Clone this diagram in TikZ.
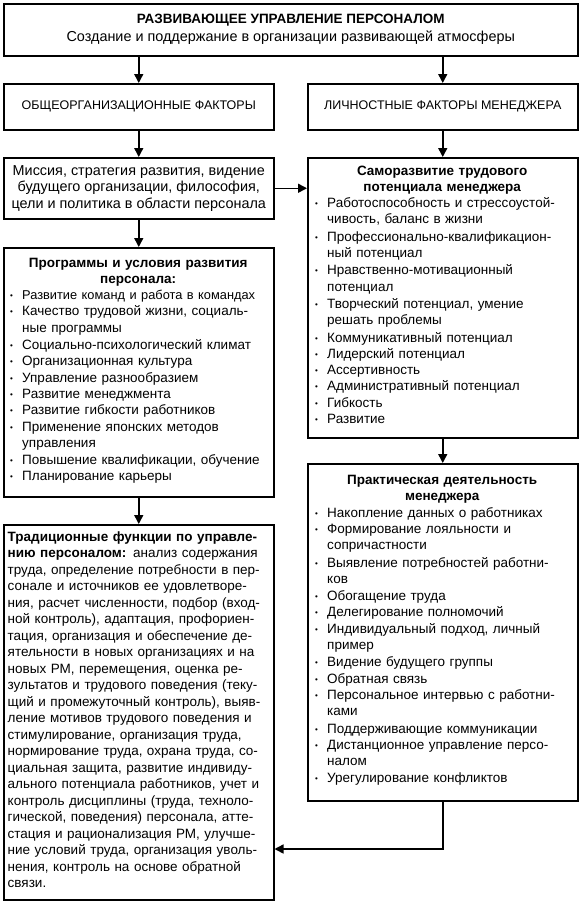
\documentclass[tikz,border=0pt]{standalone}
\usepackage{fontspec}
\setmainfont{Liberation Sans}
\usetikzlibrary{arrows.meta}

\newcommand\boxfont{\fontsize{13.5}{16.5}\selectfont\lineskiplimit=-2pt}
\newcommand\listfont{\fontsize{13.5}{16.3}\selectfont\lineskiplimit=-2pt}
\newcommand\widefont{\fontsize{14.4}{16.5}\selectfont}
\newcommand\capsfont{\fontsize{12.5}{15}\selectfont}
\newcommand\itm[1]{\par\noindent\makebox[12pt][l]{\raisebox{1pt}{\fontsize{8}{8}\selectfont•}}%
    \begin{tabular}[t]{@{}l@{}}#1\end{tabular}}
\newcommand\jl[1]{\noindent\makebox[\linewidth][s]{#1}\par}

\begin{document}
\begin{tikzpicture}[
    x=1pt, y=-1pt,
    frame/.style={draw, line width=1.5pt, inner sep=0pt, anchor=north west,
        minimum width=270pt},
    txt/.style={anchor=base west, inner sep=0pt, align=left, font=\listfont},
    arr/.style={-{Triangle[width=9pt,length=9pt]}, line width=1.5pt},
]
\useasboundingbox (0,0) rectangle (580,902);

% header and the two kinds of factors
\node[frame, minimum width=574pt, minimum height=52pt, align=center, font=\boxfont] (top) at (3,3)
    {\textbf{РАЗВИВАЮЩЕЕ УПРАВЛЕНИЕ ПЕРСОНАЛОМ}\\[1.5pt]
     {\widefont Создание и поддержание в организации развивающей атмосферы}};
\node[frame, minimum height=46pt, font=\capsfont] (orgf) at (3,83) {ОБЩЕОРГАНИЗАЦИОННЫЕ ФАКТОРЫ};
\node[frame, minimum height=46pt, font=\capsfont] (persf) at (307,83) {ЛИЧНОСТНЫЕ ФАКТОРЫ МЕНЕДЖЕРА};

% left column
\node[frame, minimum height=61pt, align=center, font=\widefont] (mission) at (3,157)
    {Миссия, стратегия развития, видение\\
     будущего организации, философия,\\
     цели и политика в области персонала};

\node[frame, minimum height=249pt] (prog) at (3,247) {};
\node[txt, text width=256pt] (progt) at (10,267) {%
    {\centering\bfseries Программы и условия развития\\персонала:\par}
    \itm{{\fontsize{12.8}{16.3}\selectfont Развитие команд и работа в командах}}
    \itm{Качество трудовой жизни, социаль-\\ные программы}
    \itm{Социально-психологический климат}
    \itm{Организационная культура}
    \itm{Управление разнообразием}
    \itm{Развитие менеджмента}
    \itm{Развитие гибкости работников}
    \itm{Применение японских методов\\управления}
    \itm{Повышение квалификации, обучение}
    \itm{Планирование карьеры}};

\node[frame, minimum height=375pt] (trad) at (3,524) {};
\node[txt, text width=261pt, font=\boxfont] (tradt) at (7.5,541) {%
    \jl{\textbf{Традиционные функции по управле-}}
    \jl{\textbf{нию персоналом:} анализ содержания}
    \jl{труда, определение потребности в пер-}
    \jl{сонале и источников ее удовлетворе-}
    \jl{ния, расчет численности, подбор (вход-}
    \jl{ной контроль), адаптация, профориен-}
    \jl{тация, организация и обеспечение де-}
    \jl{ятельности в новых организациях и на}
    \jl{новых РМ, перемещения, оценка ре-}
    \jl{зультатов и трудового поведения (теку-}
    \jl{щий и промежуточный контроль), выяв-}
    \jl{ление мотивов трудового поведения и}
    \jl{стимулирование, организация труда,}
    \jl{нормирование труда, охрана труда, со-}
    \jl{циальная защита, развитие индивиду-}
    \jl{ального потенциала работников, учет и}
    \jl{контроль дисциплины (труда, техноло-}
    \jl{гической, поведения) персонала, атте-}
    \jl{стация и рационализация РМ, улучше-}
    \jl{ние условий труда, организация уволь-}
    \jl{нения, контроль на основе обратной}
    \noindent связи.};

% right column
\node[frame, minimum height=280pt] (self) at (307,157) {};
\node[txt, text width=254pt] (selft) at (315,175) {%
    {\centering\bfseries Саморазвитие трудового\\потенциала менеджера\par}
    \itm{Работоспособность и стрессоустой-\\чивость, баланс в жизни}
    \itm{Профессионально-квалификацион-\\ный потенциал}
    \itm{Нравственно-мотивационный\\потенциал}
    \itm{Творческий потенциал, умение\\решать проблемы}
    \itm{Коммуникативный потенциал}
    \itm{Лидерский потенциал}
    \itm{Ассертивность}
    \itm{Административный потенциал}
    \itm{Гибкость}
    \itm{Развитие}};

\node[frame, minimum height=337pt] (pract) at (307,463) {};
\node[txt, text width=254pt] (practt) at (315,484.5) {%
    {\centering\bfseries Практическая деятельность\\менеджера\par}
    \itm{Накопление данных о работниках}
    \itm{Формирование лояльности и\\сопричастности}
    \itm{Выявление потребностей работни-\\ков}
    \itm{Обогащение труда}
    \itm{Делегирование полномочий}
    \itm{Индивидуальный подход, личный\\пример}
    \itm{Видение будущего группы}
    \itm{Обратная связь}
    \itm{Персональное интервью с работни-\\ками}
    \itm{Поддерживающие коммуникации}
    \itm{Дистанционное управление персо-\\налом}
    \itm{Урегулирование конфликтов}};

% connectors
\draw[arr] (orgf.north |- top.south) -- (orgf.north);
\draw[arr] (persf.north |- top.south) -- (persf.north);
\draw[arr] (orgf.south) -- (mission.north);
\draw[arr] (persf.south) -- (self.north);
\draw[arr] (mission.east) -- (mission.east -| self.west);
\draw[arr] (mission.south) -- (prog.north);
\draw[arr] (prog.south) -- (trad.north);
\draw[arr] (self.south) -- (pract.north);
\path (trad.east |- 0,849) coordinate (back);
\draw[arr] (pract.south) |- (back);
\end{tikzpicture}
\end{document}
